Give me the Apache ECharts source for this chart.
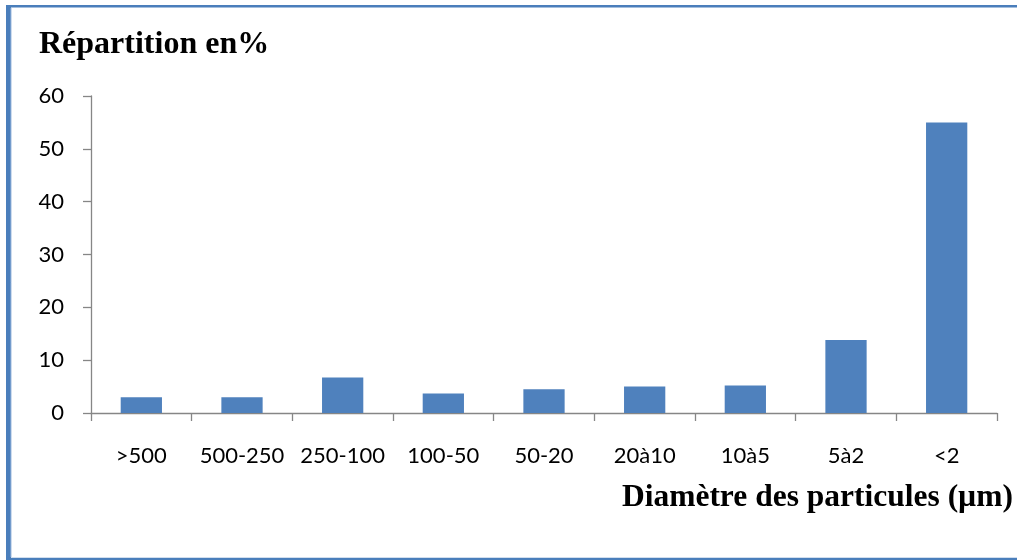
<!DOCTYPE html>
<html>
<head>
<meta charset="utf-8">
<script src="https://cdn.jsdelivr.net/npm/echarts@6/dist/echarts.min.js"></script>
<style>
  html, body { margin: 0; padding: 0; background: #ffffff; }
  #chart { width: 1017px; height: 560px; }
</style>
</head>
<body>
<div id="chart"></div>
<script>
// Particle size classes (µm) and their share in percent
const categories = ['>500', '500-250', '250-100', '100-50', '50-20', '20à10', '10à5', '5à2', '<2'];
const repartition = [3, 3, 6.7, 3.7, 4.5, 5, 5.2, 13.8, 55];
const yTicks = { min: 0, max: 60, interval: 10 };

const chart = echarts.init(document.getElementById('chart'), null, { renderer: 'canvas' });

const axisGrey = '#868686';
const labelFont = 'Lato, "Open Sans", sans-serif';
const titleFont = '"Liberation Serif", "DejaVu Serif", serif';
const frameBlue = '#4A7EBB';

chart.setOption({
  backgroundColor: '#ffffff',
  animation: false,
  title: {
    text: 'Répartition en%',
    left: 34,
    top: 24,
    textStyle: { fontFamily: titleFont, fontWeight: 'bold', fontSize: 32, color: '#000000' }
  },
  grid: { left: 91, right: 20, top: 96, bottom: 147, containLabel: false },
  xAxis: {
    type: 'category',
    data: categories,
    name: 'Diamètre des particules (µm)',
    nameLocation: 'end',
    nameGap: 0,
    nameTextStyle: {
      fontFamily: titleFont, fontWeight: 'bold', fontSize: 31.5, color: '#000000',
      align: 'right', verticalAlign: 'top', padding: [69, -16, 0, 0]
    },
    axisLine: { lineStyle: { color: axisGrey, width: 1.3 } },
    axisTick: { show: true, length: 8, alignWithLabel: false, lineStyle: { color: axisGrey, width: 1.3 } },
    axisLabel: { fontFamily: labelFont, fontSize: 22, color: '#000000', margin: 32, interval: 0 },
    splitLine: { show: false }
  },
  yAxis: {
    type: 'value',
    min: yTicks.min,
    max: yTicks.max,
    interval: yTicks.interval,
    axisLine: { show: true, lineStyle: { color: axisGrey, width: 1.3 } },
    axisTick: { show: true, length: 8, lineStyle: { color: axisGrey, width: 1.3 } },
    axisLabel: { fontFamily: labelFont, fontSize: 22, color: '#000000', margin: 27 },
    splitLine: { show: false }
  },
  series: [{
    type: 'bar',
    data: repartition,
    barCategoryGap: '59%',
    itemStyle: { color: '#4F81BD' }
  }],
  graphic: [
    // outer frame
    { type: 'line', shape: { x1: 8.5, y1: 5, x2: 8.5, y2: 560 }, style: { stroke: frameBlue, lineWidth: 5 }, silent: true },
    { type: 'line', shape: { x1: 11, y1: 8, x2: 11, y2: 557 }, style: { stroke: '#9DB9DD', lineWidth: 1 }, silent: true },
    { type: 'line', shape: { x1: 6, y1: 6.2, x2: 1017, y2: 6.2 }, style: { stroke: frameBlue, lineWidth: 2.5 }, silent: true },
    { type: 'line', shape: { x1: 6, y1: 559, x2: 1017, y2: 559 }, style: { stroke: frameBlue, lineWidth: 2.5 }, silent: true }
  ]
});
</script>
</body>
</html>
